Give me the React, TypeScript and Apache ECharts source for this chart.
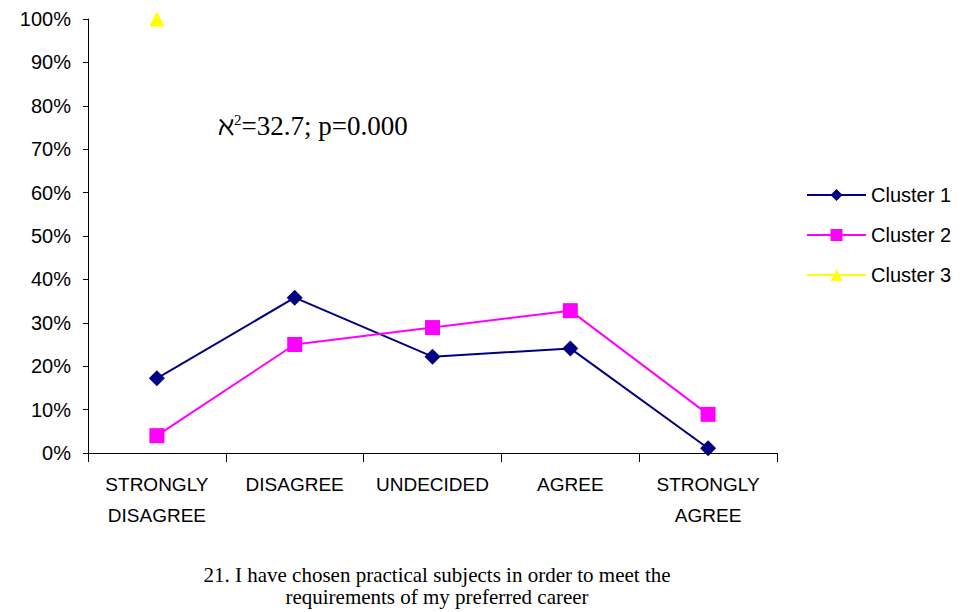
import React, { useEffect, useRef } from "react";
import * as echarts from "echarts";

const categories = ["STRONGLY\nDISAGREE", "DISAGREE", "UNDECIDED", "AGREE", "STRONGLY\nAGREE"];
const cluster1 = [17.2, 35.8, 22.2, 24.1, 1.1];
const cluster2 = [4.0, 25.0, 28.9, 32.8, 8.9];
const cluster3: (number | null)[] = [100, null, null, null, null];
const yTicks = [0, 10, 20, 30, 40, 50, 60, 70, 80, 90, 100];
const annotation = "=32.7; p=0.000";
const caption = "21. I have chosen practical subjects in order to meet the\nrequirements of my preferred career";

export default function App() {
  const ref = useRef<HTMLDivElement>(null);
  useEffect(() => {
    if (!ref.current) return;
    const chart = echarts.init(ref.current, null, { renderer: "svg" });
    const sans = "'Liberation Sans', Arial, sans-serif";
    const serif = "'Liberation Serif', 'Times New Roman', serif";
    chart.setOption({
      animation: false,
      textStyle: { fontFamily: sans, color: "#000" },
      grid: { left: 88, right: 189, top: 19, bottom: 159 },
      legend: {
        orient: "vertical",
        left: 801,
        top: 180,
        itemWidth: 59,
        itemHeight: 15,
        itemGap: 20,
        textStyle: { fontSize: 20, color: "#000", fontFamily: sans },
        data: ["Cluster 1", "Cluster 2", "Cluster 3"],
      },
      xAxis: {
        type: "category",
        data: categories,
        boundaryGap: true,
        axisLine: { lineStyle: { color: "#000", width: 1 } },
        axisTick: { show: true, length: 9, alignWithLabel: false, lineStyle: { color: "#000" } },
        axisLabel: {
          color: "#000",
          fontSize: 19,
          fontFamily: sans,
          lineHeight: 31,
          margin: 16,
          interval: 0,
        },
      },
      yAxis: {
        type: "value",
        min: 0,
        max: 100,
        interval: 10,
        splitLine: { show: false },
        axisLine: { show: true, lineStyle: { color: "#000", width: 1 } },
        axisTick: { show: true, length: 5, lineStyle: { color: "#000" } },
        axisLabel: {
          color: "#000",
          fontSize: 20,
          fontFamily: sans,
          margin: 17,
          formatter: (v: number) => (yTicks.includes(v) ? `${v}%` : ""),
        },
      },
      series: [
        {
          name: "Cluster 1",
          type: "line",
          data: cluster1,
          symbol: "diamond",
          symbolSize: 16,
          lineStyle: { color: "#000080", width: 2 },
          itemStyle: { color: "#000080" },
        },
        {
          name: "Cluster 2",
          type: "line",
          data: cluster2,
          symbol: "rect",
          symbolSize: 15,
          lineStyle: { color: "#FF00FF", width: 2 },
          itemStyle: { color: "#FF00FF" },
        },
        {
          name: "Cluster 3",
          type: "line",
          data: cluster3,
          symbol: "triangle",
          symbolSize: 15,
          connectNulls: false,
          lineStyle: { color: "#FFFF00", width: 2 },
          itemStyle: { color: "#FFFF00" },
        },
      ],
      graphic: [
        {
          type: "text",
          left: 218,
          top: 112,
          style: {
            text: `{a|ℵ}{s|2}{b|${annotation}}`,
            rich: {
              a: { fontFamily: serif, fontSize: 27, color: "#000", verticalAlign: "bottom" },
              s: { fontFamily: serif, fontSize: 15, color: "#000", verticalAlign: "top", padding: [0, 0, 11, 0] },
              b: { fontFamily: serif, fontSize: 27, color: "#000", verticalAlign: "bottom" },
            },
          },
        },
        {
          type: "text",
          x: 437,
          y: 564,
          style: {
            text: caption,
            fontFamily: serif,
            fontSize: 21,
            lineHeight: 22,
            align: "center",
            verticalAlign: "top",
            fill: "#000",
          },
        },
      ],
    });
    return () => chart.dispose();
  }, []);
  return <div ref={ref} style={{ width: 966, height: 612, position: "absolute", left: 0, top: 0 }} />;
}
